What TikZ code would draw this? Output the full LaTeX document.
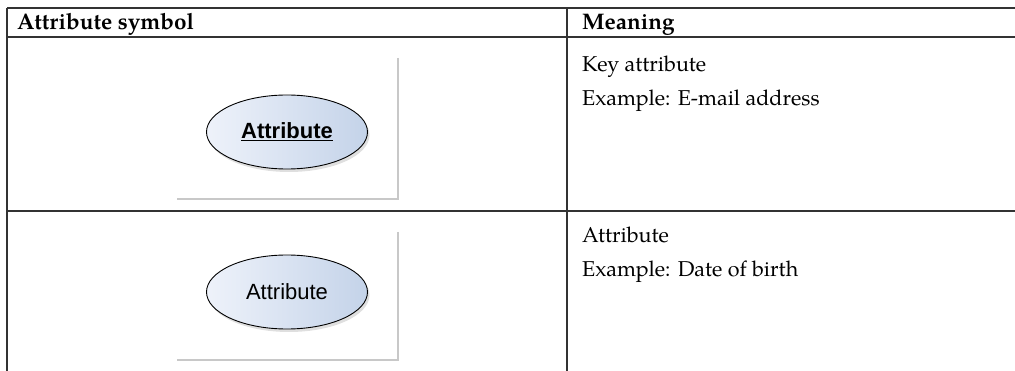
\documentclass[tikz,border=0pt]{standalone}
\usepackage{fontspec}
\setmainfont{TeX Gyre Pagella}
\newfontfamily\symfont{Liberation Sans}
\usetikzlibrary{shapes.geometric,shadows}

\definecolor{attrlight}{HTML}{EEF2FA}
\definecolor{attrdark}{HTML}{C4D3E9}
\definecolor{framegray}{HTML}{C8C8C8}

\tikzset{
  rule/.style={line width=1.6pt, draw=black!80},
  headtext/.style={anchor=base west, inner sep=0pt, font=\fontsize{22.5}{26}\selectfont\bfseries},
  celltext/.style={anchor=base west, inner sep=0pt, font=\fontsize{21.5}{26}\selectfont},
  attr/.style={ellipse, draw=black, line width=0.9pt, minimum width=161pt, minimum height=74pt,
    left color=attrlight, right color=attrdark,
    drop shadow={opacity=0.25, shadow xshift=2pt, shadow yshift=-3pt},
    font=\symfont\fontsize{22}{24}\selectfont},
  imgframe/.style={draw=framegray, line width=1.4pt}
}

\begin{document}
\begin{tikzpicture}[x=1pt, y=-1pt]
  \useasboundingbox (0,0) rectangle (1015,371);
  % table rules
  \draw[rule] (7,8) -- (1020,8) (7,37) -- (1020,37) (7,211) -- (1020,211);
  \draw[rule] (7,8) -- (7,380) (567,8) -- (567,380);
  % header
  \node[headtext] (hsym) at (17,30) {Attribute symbol};
  \node[headtext] (hmean) at (582,30) {Meaning};
  % first row: key attribute
  \draw[imgframe] (398,58) -- (398,199) -- (177,199);
  \node[attr, font=\symfont\bfseries\fontsize{22}{24}\selectfont] (keyattr) at (287,132) {\underline{Attribute}};
  \node[celltext] (keytext) at (582,72) {Key attribute};
  \node[celltext] (keyex) at (582,106) {Example: E-mail address};
  % second row: attribute
  \draw[imgframe] (398,232) -- (398,360) -- (177,360);
  \node[attr] (plainattr) at (287,292) {Attribute};
  \node[celltext] (plaintext) at (582,243) {Attribute};
  \node[celltext] (plainex) at (582,277) {Example: Date of birth};
\end{tikzpicture}
\end{document}
